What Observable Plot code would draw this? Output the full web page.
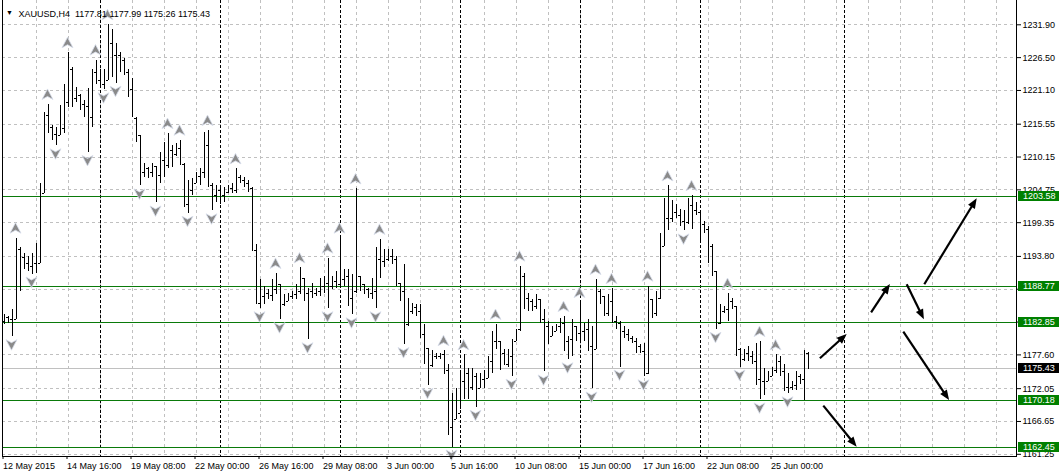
<!DOCTYPE html>
<html><head><meta charset="utf-8">
<script src="https://cdn.jsdelivr.net/npm/d3@7"></script>
<script src="https://cdn.jsdelivr.net/npm/@observablehq/plot@0.6"></script>
<style>html,body{margin:0;padding:0;background:#fff;overflow:hidden}</style>
</head><body><div id="chart"></div>
<script>
const titleText = "XAUUSD,H4\u00a0\u00a01177.81 1177.99 1175.26 1175.43";

const opens = [1183.1,1183.8,1183.4,1183.4,1195.0,1193.7,1192.7,1192.2,1192.7,1192.7,
1204.1,1217.0,1215.0,1213.9,1213.7,1214.9,1219.2,1224.6,1219.8,1220.3,
1218.8,1218.5,1216.7,1224.0,1222.8,1222.0,1222.8,1228.8,1226.9,1226.9,
1226.1,1224.1,1221.3,1216.5,1213.7,1207.6,1208.2,1207.6,1208.6,1207.1,
1209.6,1208.7,1211.2,1210.5,1211.5,1209.0,1202.4,1204.6,1205.8,1206.9,
1207.6,1212.0,1205.4,1203.8,1204.6,1203.8,1204.3,1204.9,1204.6,1206.7,
1206.3,1205.8,1204.9,1194.8,1186.1,1187.2,1187.7,1187.4,1188.4,1189.2,
1185.9,1186.4,1187.2,1187.5,1188.1,1190.2,1187.7,1188.1,1187.7,1188.1,
1188.9,1189.4,1188.9,1189.7,1189.2,1190.0,1190.5,1186.9,1188.1,1190.5,
1189.2,1188.4,1187.7,1188.1,1193.3,1193.0,1193.3,1193.8,1193.3,1189.4,
1188.1,1182.6,1184.7,1185.4,1184.7,1180.9,1178.6,1175.9,1177.3,1177.3,
1177.6,1175.1,1165.7,1167.0,1167.9,1173.2,1174.5,1172.3,1174.0,1172.0,
1173.5,1173.7,1176.5,1179.8,1179.8,1177.8,1176.1,1177.3,1179.8,1181.8,
1190.5,1186.9,1186.4,1185.6,1186.7,1183.4,1182.3,1180.6,1181.4,1182.3,
1182.8,1179.8,1180.1,1182.3,1181.1,1181.4,1181.8,1179.0,1178.5,1188.1,
1187.2,1184.4,1186.4,1183.1,1182.8,1181.4,1180.9,1180.3,1179.8,1179.0,
1178.1,1174.5,1186.7,1184.4,1186.9,1195.5,1200.1,1200.0,1201.0,1200.6,
1199.6,1199.3,1202.1,1201.3,1201.0,1199.1,1198.3,1195.5,1191.4,1182.8,
1184.7,1185.1,1186.4,1185.6,1178.5,1176.8,1177.8,1177.3,1176.5,1173.5,
1173.2,1173.2,1174.0,1175.1,1176.5,1174.8,1172.3,1172.3,1172.5,1174.0,
1173.5,1177.81];

const highs = [1184.2,1183.9,1185.1,1196.8,1195.2,1194.2,1193.8,1194.3,1196.0,1205.8,
1217.5,1218.8,1215.4,1215.0,1218.7,1222.0,1227.3,1224.8,1221.6,1220.5,
1219.5,1221.5,1224.6,1226.1,1224.5,1224.5,1231.9,1231.1,1228.9,1227.3,
1226.4,1224.5,1223.1,1216.7,1213.7,1209.1,1208.4,1209.1,1208.6,1210.9,
1212.5,1214.0,1212.0,1212.4,1212.9,1209.1,1206.3,1206.6,1207.6,1208.2,
1214.2,1214.5,1205.8,1205.4,1204.9,1205.1,1205.4,1205.8,1208.2,1207.1,
1206.7,1206.3,1205.1,1195.8,1190.0,1188.9,1188.4,1190.0,1191.0,1189.2,
1187.5,1187.7,1188.1,1189.2,1191.9,1190.2,1188.5,1189.4,1188.5,1190.2,
1190.5,1193.5,1190.5,1191.4,1196.8,1191.7,1191.7,1190.9,1204.9,1190.5,
1189.2,1188.5,1190.2,1195.3,1196.6,1195.0,1195.0,1195.0,1193.8,1189.4,
1192.5,1186.9,1186.1,1185.9,1185.9,1182.6,1178.6,1178.4,1177.8,1177.8,
1178.3,1176.0,1171.2,1172.0,1175.1,1177.6,1175.3,1175.3,1174.5,1174.5,
1175.1,1177.3,1181.4,1182.6,1179.8,1178.5,1178.5,1180.1,1181.8,1192.2,
1191.0,1187.7,1186.7,1187.5,1186.7,1185.1,1183.1,1182.3,1182.6,1183.6,
1183.9,1180.6,1183.4,1182.3,1186.2,1182.8,1183.4,1182.3,1190.0,1188.4,
1187.2,1187.5,1188.5,1183.9,1183.1,1182.3,1181.8,1180.6,1180.3,1179.3,
1179.5,1188.9,1186.7,1188.1,1197.6,1203.3,1205.4,1203.0,1202.4,1201.6,
1201.3,1203.4,1203.8,1202.6,1201.0,1199.6,1198.8,1195.8,1191.4,1185.9,
1185.6,1187.7,1186.9,1185.6,1178.6,1178.5,1179.0,1178.1,1179.5,1179.8,
1175.3,1174.8,1175.6,1177.6,1177.3,1176.0,1174.5,1173.2,1174.8,1174.3,
1178.3,1177.99];

const lows = [1182.6,1182.8,1180.6,1183.4,1188.1,1191.7,1191.4,1190.9,1191.0,1192.7,
1204.1,1214.0,1212.9,1212.0,1213.7,1214.0,1218.3,1218.3,1219.2,1217.8,
1216.7,1210.9,1215.0,1222.0,1221.8,1221.2,1222.8,1223.3,1222.3,1224.0,
1223.6,1220.0,1216.7,1212.5,1205.4,1206.7,1206.6,1206.7,1202.6,1205.8,
1206.7,1208.2,1208.4,1210.2,1208.7,1201.8,1200.9,1203.8,1205.8,1205.4,
1206.6,1205.1,1201.3,1202.6,1202.4,1202.6,1204.1,1204.1,1204.1,1205.8,
1205.1,1204.3,1194.7,1185.9,1185.2,1185.9,1186.7,1186.4,1187.5,1183.4,
1185.6,1186.4,1186.7,1186.7,1187.5,1186.4,1180.1,1186.9,1187.2,1187.2,
1187.7,1185.2,1188.4,1188.5,1188.5,1188.9,1185.6,1184.2,1187.7,1188.1,
1187.5,1186.9,1186.7,1185.2,1190.2,1191.9,1193.0,1192.5,1188.9,1186.4,
1179.3,1182.3,1184.2,1183.9,1180.3,1176.1,1172.6,1175.6,1176.8,1176.8,
1174.3,1164.4,1162.45,1167.0,1168.7,1170.3,1170.3,1171.8,1169.0,1172.0,
1172.0,1173.7,1174.5,1178.5,1175.1,1176.0,1175.6,1174.1,1179.8,1181.4,
1185.1,1184.7,1184.7,1185.1,1182.8,1174.8,1179.3,1180.6,1181.4,1181.1,
1178.1,1176.8,1177.3,1179.8,1179.8,1179.8,1178.1,1172.0,1178.5,1185.9,
1183.9,1183.9,1182.8,1181.8,1175.6,1180.3,1179.8,1179.4,1177.8,1177.8,
1174.0,1174.3,1183.6,1183.9,1186.7,1195.5,1198.0,1199.3,1200.0,1198.8,
1198.0,1199.1,1198.3,1200.5,1196.3,1197.6,1192.7,1190.5,1181.8,1182.6,
1184.4,1183.1,1185.1,1177.3,1175.6,1176.5,1176.5,1176.0,1172.6,1170.2,
1171.0,1173.2,1174.0,1174.5,1174.0,1171.5,1171.2,1171.8,1171.8,1172.8,
1170.18,1175.26];

const closes = [1183.8,1183.4,1183.4,1195.0,1193.7,1192.7,1192.2,1192.7,1192.7,1204.1,
1217.0,1215.0,1213.9,1213.7,1214.9,1219.2,1224.6,1219.8,1220.3,1218.8,
1218.5,1216.7,1224.0,1222.8,1222.0,1222.8,1228.8,1226.9,1226.9,1226.1,
1224.1,1221.3,1221.2,1213.7,1207.6,1208.2,1207.6,1208.6,1207.1,1209.6,
1208.7,1211.2,1210.5,1211.5,1209.2,1202.4,1204.6,1205.8,1206.9,1207.6,
1212.0,1205.4,1203.8,1204.6,1203.8,1204.3,1204.9,1204.6,1206.7,1206.3,
1205.8,1204.9,1194.8,1186.1,1187.2,1187.7,1187.4,1188.4,1189.2,1185.2,
1186.4,1187.2,1187.5,1188.1,1190.2,1187.7,1188.1,1187.7,1188.1,1188.9,
1189.4,1188.9,1189.7,1189.2,1190.0,1190.5,1186.9,1188.1,1190.5,1189.2,
1188.4,1187.7,1188.1,1193.3,1193.0,1192.7,1193.8,1193.3,1189.4,1188.1,
1182.6,1184.7,1185.4,1184.7,1180.9,1178.6,1175.9,1177.3,1177.3,1177.6,
1175.1,1165.7,1167.0,1167.9,1173.2,1174.5,1172.3,1174.0,1172.0,1173.5,
1173.7,1176.5,1179.8,1179.8,1177.8,1176.1,1177.3,1179.8,1181.4,1190.5,
1186.9,1186.4,1185.6,1186.7,1183.4,1182.3,1180.6,1181.4,1182.3,1182.8,
1179.8,1180.1,1182.3,1181.1,1181.4,1181.8,1179.0,1178.5,1188.1,1187.2,
1184.4,1186.4,1183.1,1182.8,1181.4,1180.9,1180.3,1179.8,1179.0,1178.1,
1174.5,1186.7,1184.4,1186.9,1195.5,1200.1,1200.0,1201.0,1200.6,1199.6,
1199.3,1202.1,1201.3,1201.0,1199.1,1198.3,1195.5,1191.4,1182.8,1184.7,
1185.1,1186.4,1185.6,1178.5,1176.8,1177.8,1177.3,1176.5,1173.5,1173.2,
1173.2,1174.0,1175.1,1176.5,1174.8,1172.3,1172.3,1172.5,1174.0,1173.5,
1177.8,1175.43];

const upFractals = [3,11,16,23,26,41,44,51,58,68,74,81,84,88,94,110,115,123,129,140,144,148,152,161,166,172,181,189,193];
const downFractals = [2,7,13,21,25,28,34,38,46,52,64,69,76,81,87,93,100,106,112,118,127,135,141,147,154,160,170,178,184,189,196];

const priceTicks = [1231.90,1226.50,1221.10,1215.55,1210.15,1204.75,1199.35,1193.80,1188.40,1183.00,1177.60,1172.05,1166.65,1161.25];
const hiddenTicks = [1188.40,1183.00];
const dateTickBars = [0,16,32,48,64,80,96,112,128,144,160,176,192];
const dateLabels = ["12 May 2015","14 May 16:00","19 May 08:00","22 May 00:00","26 May 16:00","29 May 08:00","3 Jun 00:00","5 Jun 16:00","10 Jun 08:00","15 Jun 00:00","17 Jun 16:00","22 Jun 08:00","25 Jun 00:00"];
const gridBars = d3.range(8, 252, 8);
const separatorBars = [24,54,84,114,144,174,210];

const levelPrices = [1203.58,1188.77,1182.85,1170.18,1162.45];
const bidPrice = 1175.43;

const arrowStartBar = [204.1,216.9,225.8,230.2,224.95,204.95];
const arrowStartPrice = [1176.96,1184.53,1189.14,1189.14,1181.34,1169.17];
const arrowEndBar = [210.8,221.6,230.1,243.3,236.4,213.3];
const arrowEndPrice = [1180.96,1189.19,1183.38,1203.28,1170.10,1162.42];

// ---- build tables ----
const bars = opens.map((o, i) => ({i, open: o, high: highs[i], low: lows[i], close: closes[i]}));
const upData = upFractals.map(i => bars[i]);
const downData = downFractals.map(i => bars[i]);
const labelOf = new Map(dateTickBars.map((b, k) => [b, dateLabels[k]]));
const arrows = arrowStartBar.map((b, k) => ({x1: b, p1: arrowStartPrice[k], x2: arrowEndBar[k], p2: arrowEndPrice[k]}));
const boxes = levelPrices.map(p => ({price: p, fill: "#008000"})).concat([{price: bidPrice, fill: "#000000"}]);

const upSymbol = {draw(ctx) { ctx.moveTo(0,-5.5); ctx.lineTo(5.5,5); ctx.lineTo(0,2); ctx.lineTo(-5.5,5); ctx.closePath(); }};
const downSymbol = {draw(ctx) { ctx.moveTo(0,5.5); ctx.lineTo(5.5,-5); ctx.lineTo(0,-2); ctx.lineTo(-5.5,-5); ctx.closePath(); }};

function arrowMark(index, scales) {
  const g = d3.create("svg:g");
  for (const a of arrows) {
    const x1 = scales.x(a.x1), y1 = scales.y(a.p1), x2 = scales.x(a.x2), y2 = scales.y(a.p2);
    const ang = Math.atan2(y2 - y1, x2 - x1), L = 10, W = 4;
    const bx = x2 - L * Math.cos(ang), by = y2 - L * Math.sin(ang);
    g.append("line").attr("x1", x1).attr("y1", y1).attr("x2", bx + Math.cos(ang)).attr("y2", by + Math.sin(ang))
      .attr("stroke", "#000").attr("stroke-width", 2.2);
    g.append("path").attr("d", `M${x2},${y2}L${bx + W*Math.sin(ang)},${by - W*Math.cos(ang)}L${bx - W*Math.sin(ang)},${by + W*Math.cos(ang)}Z`)
      .attr("fill", "#000");
  }
  return g.node();
}

function frameMark(index, scales, values, dimensions) {
  const {width, height, marginLeft, marginRight, marginBottom} = dimensions;
  const g = d3.create("svg:g").attr("stroke", "#000").attr("shape-rendering", "crispEdges");
  const xl = marginLeft + 0.5, xr = width - marginRight + 0.5, yb = height - marginBottom + 0.5;
  g.append("path").attr("fill", "none").attr("d", `M${xl},0V${yb}H${xr}V0`);
  return g.node();
}

function boxMark(index, scales, values, dimensions) {
  const g = d3.create("svg:g").attr("text-anchor", "start");
  const xb = dimensions.width - dimensions.marginRight + 2;
  for (const b of boxes) {
    const y = Math.round(scales.y(b.price));
    g.append("rect").attr("x", xb).attr("y", y - 5).attr("width", 41).attr("height", 10).attr("fill", b.fill);
    g.append("text").attr("x", xb + 5).attr("y", y).attr("dy", "0.34em").attr("text-anchor", "start")
      .attr("fill", "#fff").attr("font-size", 9).text(b.price.toFixed(2));
  }
  return g.node();
}

const chart = Plot.plot({
  width: 1060, height: 475,
  marginLeft: 2, marginRight: 44, marginTop: 0, marginBottom: 19,
  style: {fontFamily: "'Liberation Sans', Arial, sans-serif", fontSize: "9px", background: "#fff", color: "#000"},
  x: {domain: [0, 250], range: [3.5, 1003.5], label: null},
  y: {domain: [1231.9, 1161.25], range: [24.3, 453.8], label: null},
  marks: [
    Plot.ruleY(priceTicks, {stroke: "#c0c0c0", strokeDasharray: "3,3", shapeRendering: "crispEdges"}),
    Plot.ruleX(gridBars, {stroke: "#c0c0c0", strokeDasharray: "3,3", shapeRendering: "crispEdges"}),
    Plot.ruleX(separatorBars, {stroke: "#000", strokeDasharray: "3,2", shapeRendering: "crispEdges"}),
    Plot.ruleY(levelPrices, {stroke: "#0a7a0a", shapeRendering: "crispEdges"}),
    Plot.ruleY([bidPrice], {stroke: "#c0c0c0", shapeRendering: "crispEdges"}),
    Plot.ruleX(bars, {x: "i", y1: "low", y2: "high", stroke: "#000", shapeRendering: "crispEdges"}),
    Plot.ruleY(bars, {y: "open", x1: d => d.i - 0.375, x2: "i", stroke: "#000", shapeRendering: "crispEdges"}),
    Plot.ruleY(bars, {y: "close", x1: "i", x2: d => d.i + 0.375, stroke: "#000", shapeRendering: "crispEdges"}),
    Plot.dot(upData, {x: "i", y: "high", dy: -10, dx: -0.5, symbol: upSymbol, fill: "#8a8a8a", stroke: "#d8deec", strokeWidth: 0.8}),
    Plot.dot(downData, {x: "i", y: "low", dy: 8, dx: -0.5, symbol: downSymbol, fill: "#8a8a8a", stroke: "#d8deec", strokeWidth: 0.8}),
    arrowMark,
    frameMark,
    Plot.axisY(priceTicks, {anchor: "right", label: null, tickSize: 4, tickPadding: 2, fontSize: 9,
      tickFormat: d => hiddenTicks.includes(d) ? "" : d.toFixed(2)}),
    Plot.axisX(dateTickBars, {anchor: "bottom", label: null, tickSize: 3, tickPadding: 3, fontSize: 9,
      tickFormat: d => labelOf.get(d), textAnchor: "start", dx: -1}),
    boxMark,
    Plot.text(["\u25BC"], {text: d => d, frameAnchor: "top-left", dx: 7, dy: 10, fontSize: 7, textAnchor: "middle"}),
    Plot.text([titleText], {text: d => d, frameAnchor: "top-left", dx: 16, dy: 10, fontSize: 9, textAnchor: "start"})
  ]
});
document.getElementById("chart").appendChild(chart);
</script>
</body></html>
